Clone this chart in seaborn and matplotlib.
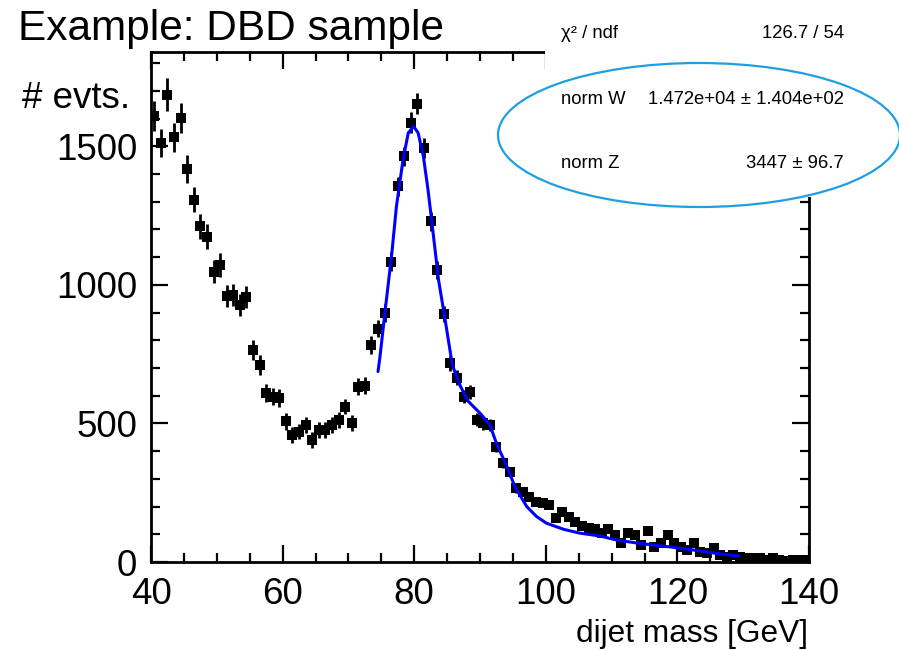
import numpy as np
import pandas as pd
import matplotlib
matplotlib.use('Agg')
import matplotlib.pyplot as plt
from matplotlib.patches import Ellipse, Rectangle
from matplotlib.ticker import MultipleLocator, FixedLocator
import seaborn as sns

# ---------------- data ----------------
mass = [40.5, 41.5, 42.5, 43.5, 44.5, 45.5, 46.5, 47.5, 48.5, 49.5,
        50.5, 51.5, 52.5, 53.5, 54.5, 55.5, 56.5, 57.5, 58.5, 59.5,
        60.5, 61.5, 62.5, 63.5, 64.5, 65.5, 66.5, 67.5, 68.5, 69.5,
        70.5, 71.5, 72.5, 73.5, 74.5, 75.5, 76.5, 77.5, 78.5, 79.5,
        80.5, 81.5, 82.5, 83.5, 84.5, 85.5, 86.5, 87.5, 88.5, 89.5,
        90.5, 91.5, 92.5, 93.5, 94.5, 95.5, 96.5, 97.5, 98.5, 99.5,
        100.5, 101.5, 102.5, 103.5, 104.5, 105.5, 106.5, 107.5, 108.5, 109.5,
        110.5, 111.5, 112.5, 113.5, 114.5, 115.5, 116.5, 117.5, 118.5, 119.5,
        120.5, 121.5, 122.5, 123.5, 124.5, 125.5, 126.5, 127.5, 128.5, 129.5,
        130.5, 131.5, 132.5, 133.5, 134.5, 135.5, 136.5, 137.5, 138.5, 139.5]

events = [1610, 1511, 1686, 1533, 1602, 1418, 1307, 1211, 1174, 1048,
          1072, 961, 964, 928, 957, 765, 711, 609, 597, 591,
          507, 458, 470, 495, 440, 476, 476, 495, 513, 561,
          501, 633, 636, 783, 842, 899, 1084, 1355, 1463, 1584,
          1653, 1493, 1229, 1054, 895, 717, 665, 597, 612, 513,
          501, 495, 416, 356, 326, 266, 254, 236, 218, 212,
          206, 158, 182, 164, 146, 130, 122, 118, 106, 118,
          97, 67, 106, 97, 61, 113, 55, 67, 97, 67,
          55, 43, 70, 37, 31, 49, 25, 19, 25, 19,
          13, 13, 13, 7, 13, 7, 2, 7, 9, 6]

events_err = [55, 50, 60, 52, 55, 50, 45, 45, 45, 42,
              42, 40, 40, 40, 40, 35, 35, 32, 32, 32,
              30, 28, 28, 28, 28, 28, 28, 28, 28, 28,
              28, 30, 30, 32, 32, 33, 35, 35, 36, 38,
              38, 36, 35, 33, 30, 28, 27, 25, 25, 23,
              23, 22, 20, 18, 18, 16, 16, 15, 15, 15,
              14, 12, 12, 12, 12, 12, 12, 12, 12, 12,
              12, 10, 10, 10, 10, 10, 10, 10, 10, 10,
              10, 10, 10, 10, 10, 10, 6, 6, 6, 6,
              6, 6, 6, 6, 6, 6, 6, 6, 6, 6]

fit_mass = [74.5, 74.8, 75.6, 76.6, 77.3, 78.3, 79.1, 79.9, 80.6, 81.4,
            82.1, 82.7, 83.7, 84.7, 85.8, 87.0, 88.2, 90.0, 91.5, 92.5,
            94.1, 95.3, 97.1, 98.6, 100.1, 102.7, 105.2, 108.2, 110.8, 114.3,
            119.4, 123.4, 126.5, 129.3]
fit_events = [687, 741, 910, 1114, 1283, 1451, 1548, 1572, 1548, 1463,
              1343, 1223, 1018, 874, 710, 635, 580, 537, 495, 428,
              344, 272, 200, 164, 140, 118, 104, 94, 79, 67,
              53, 40, 29, 22]

title_text = "Example: DBD sample"
y_title = "# evts."
x_title = "dijet mass [GeV]"
stats_labels = ["\u03c7\u00b2 / ndf", "norm W", "norm Z"]
stats_values = ["126.7 / 54", "1.472e+04 \u00b1 1.404e+02", "3447 \u00b1 96.7"]
x_ticks = [40, 60, 80, 100, 120, 140]
y_ticks = [0, 500, 1000, 1500]

# ---------------- style ----------------
sns.set_theme(style='ticks')
plt.rcParams['font.family'] = ['Liberation Sans', 'DejaVu Sans']

W, H = 899, 650
fig = plt.figure(figsize=(W / 100, H / 100), dpi=100)
ax = fig.add_axes([151 / W, 88 / H, 658 / W, 510 / H])

df = pd.DataFrame({'mass': mass, 'events': events, 'err': events_err})
ax.errorbar(df['mass'], df['events'], yerr=df['err'], xerr=0.5, fmt='none',
            ecolor='black', elinewidth=2.0, capsize=0, zorder=3)
sns.scatterplot(data=df, x='mass', y='events', marker='s', s=42, color='black',
                linewidth=0, ax=ax, zorder=4, legend=False)

fit_df = pd.DataFrame({'mass': fit_mass, 'events': fit_events})
sns.lineplot(data=fit_df, x='mass', y='events', sort=False, estimator=None,
             color='#0000ff', linewidth=2.2, ax=ax, zorder=5)

ax.set_xlim(40, 140)
ax.set_ylim(0, 1840)
ax.xaxis.set_major_locator(FixedLocator(x_ticks))
ax.yaxis.set_major_locator(FixedLocator(y_ticks))
ax.xaxis.set_minor_locator(MultipleLocator(5))
ax.yaxis.set_minor_locator(MultipleLocator(100))
ax.set_xticklabels([str(t) for t in x_ticks])
ax.set_yticklabels([str(t) for t in y_ticks])
ax.set_xlabel('')
ax.set_ylabel('')

for s in ax.spines.values():
    s.set_visible(True)
    s.set_color('black')
    s.set_linewidth(2.0)

ax.tick_params(which='both', direction='in', top=True, right=True,
               color='black', width=1.6)
ax.tick_params(which='major', length=12, labelsize=26.5, labelcolor='black')
ax.tick_params(axis='x', which='major', pad=11)
ax.tick_params(axis='y', which='major', pad=10)
ax.tick_params(which='minor', length=6.5)

# stats box (white area covering the top-right corner)
fig.add_artist(Rectangle((545 / W, 1 - 197 / H), 1 - 545 / W, 197 / H,
                         transform=fig.transFigure, facecolor='white',
                         edgecolor='none', zorder=10))
rows_y = [33, 99, 163]
for lab, val, yy in zip(stats_labels, stats_values, rows_y):
    fig.text(561 / W, 1 - yy / H, lab, fontsize=13.3, ha='left', va='center',
             color='black', zorder=11)
    fig.text(844 / W, 1 - yy / H, val, fontsize=13.3, ha='right', va='center',
             color='black', zorder=11)

fig.add_artist(Ellipse((699 / W, 1 - 135 / H), 402 / W, 144 / H,
                       transform=fig.transFigure, fill=False,
                       edgecolor='#1f9fe0', linewidth=1.6, zorder=12))

fig.text(18 / W, 1 - 40 / H, title_text, fontsize=30.5, ha='left',
         va='baseline', color='black')
fig.text(22 / W, 1 - 108 / H, y_title, fontsize=26.5, ha='left',
         va='baseline', color='black')
fig.text(808 / W, 1 - 642 / H, x_title, fontsize=22.8, ha='right',
         va='baseline', color='black')

fig.savefig('out.png', dpi=100)
